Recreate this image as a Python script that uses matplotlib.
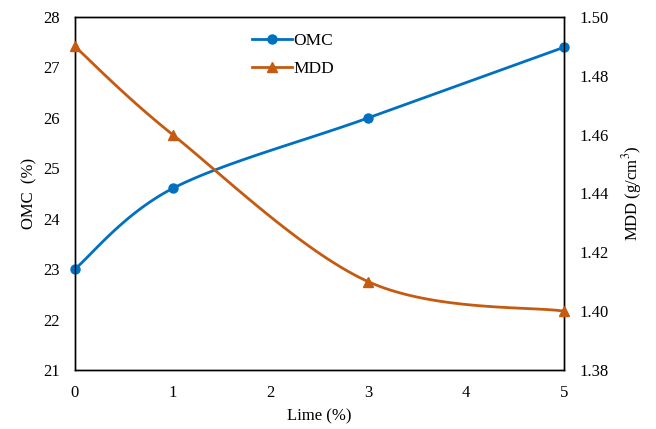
import numpy as np
import matplotlib
matplotlib.use("Agg")
import matplotlib.pyplot as plt

plt.rcParams['font.family'] = ['Liberation Serif', 'DejaVu Serif']
plt.rcParams['mathtext.fontset'] = 'stix'

# data
lime = [0, 1, 3, 5]
omc = [23.0, 24.6, 26.0, 27.4]
mdd = [1.49, 1.46, 1.41, 1.40]


# Excel-style smoothed line (cubic Bezier through the points)
def smooth(x, y, n=40):
    x = np.asarray(x, float)
    y = np.asarray(y, float)
    px = np.concatenate([[x[0]], x, [x[-1]]])
    py = np.concatenate([[y[0]], y, [y[-1]]])
    xs, ys = [], []
    t = np.linspace(0, 1, n)
    for i in range(1, len(px) - 2):
        p0 = np.array([px[i], py[i]])
        p3 = np.array([px[i + 1], py[i + 1]])
        p1 = p0 + (np.array([px[i + 1], py[i + 1]]) - np.array([px[i - 1], py[i - 1]])) / 6
        p2 = p3 - (np.array([px[i + 2], py[i + 2]]) - np.array([px[i], py[i]])) / 6
        b = ((1 - t) ** 3)[:, None] * p0 + (3 * (1 - t) ** 2 * t)[:, None] * p1 \
            + (3 * (1 - t) * t ** 2)[:, None] * p2 + (t ** 3)[:, None] * p3
        xs.extend(b[:, 0])
        ys.extend(b[:, 1])
    return xs, ys


blue = '#0070C0'
orange = '#C55A11'

fig = plt.figure(figsize=(6.56, 4.29), dpi=100)
ax = fig.add_axes([0.114, 0.1375, 0.746, 0.823])
ax2 = ax.twinx()

sx, sy = smooth(lime, omc)
ax.plot(sx, sy, color=blue, lw=2)
ax.plot(lime, omc, 'o', color=blue, ms=6.5, clip_on=False, zorder=5)
l1, = ax.plot([], [], '-o', color=blue, lw=2, ms=6.5, label='OMC')

sx, sy = smooth(lime, mdd)
ax2.plot(sx, sy, color=orange, lw=2)
ax2.plot(lime, mdd, '^', color=orange, ms=6.5, clip_on=False, zorder=5)
l2, = ax2.plot([], [], '-^', color=orange, lw=2, ms=6.5, label='MDD')

ax.set_xlim(0, 5)
ax.set_ylim(21, 28)
ax2.set_ylim(1.38, 1.50)
ax.set_xticks(range(6))
ax.set_yticks(range(21, 29))
ax2.set_yticks(np.arange(1.38, 1.501, 0.02))
ax2.set_yticklabels([f'{v:.2f}' for v in np.arange(1.38, 1.501, 0.02)])

for a in (ax, ax2):
    a.tick_params(length=0, labelsize=12, pad=11)
    for s in a.spines.values():
        s.set_linewidth(1.0)
        s.set_color('black')

ax.set_xlabel('Lime (%)', fontsize=12, labelpad=5)
ax.set_ylabel('OMC  (%)', fontsize=12, labelpad=4)
ax2.set_ylabel('MDD (g/cm$^3$)', fontsize=12, labelpad=8)

ax.legend(handles=[l1, l2], loc='upper left', bbox_to_anchor=(0.33, 1.0),
          frameon=False, fontsize=12.5, handlelength=2.3, handletextpad=0.1,
          labelspacing=0.7)

fig.savefig('out.png', dpi=100)
